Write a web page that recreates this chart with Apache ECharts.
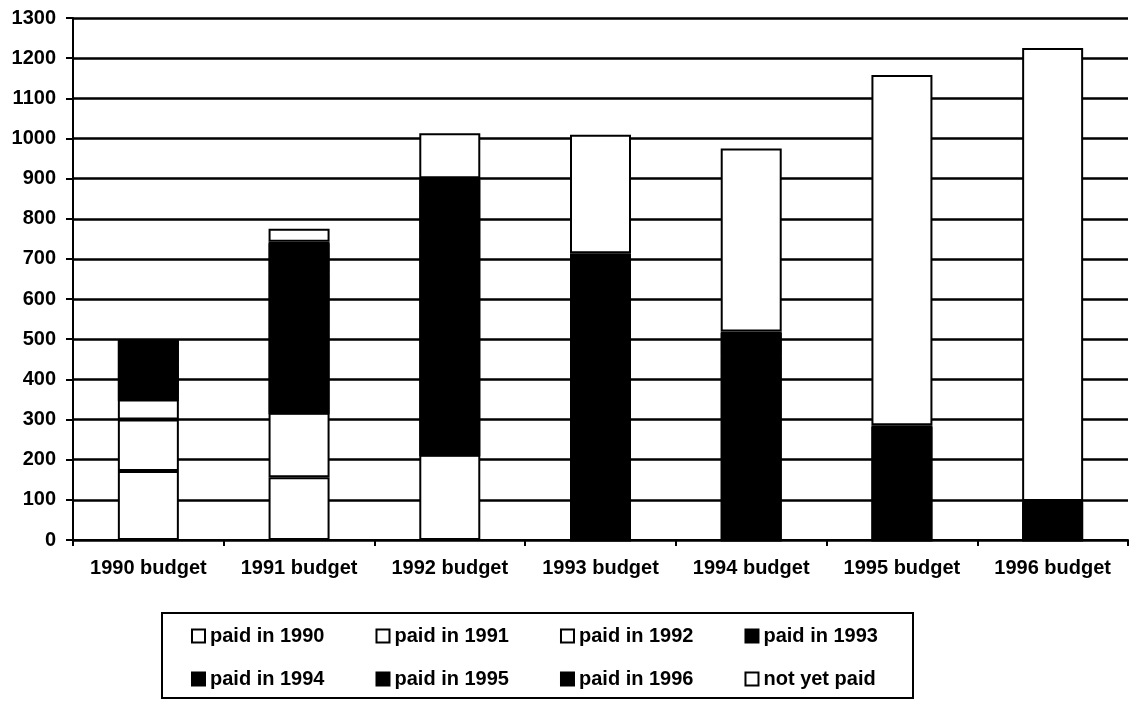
<!DOCTYPE html>
<html>
<head>
<meta charset="utf-8">
<script src="https://cdn.jsdelivr.net/npm/echarts@6/dist/echarts.min.js"></script>
<style>
  html, body { margin: 0; padding: 0; background: #fff; }
  #chart { width: 1134px; height: 712px; }
</style>
</head>
<body>
<div id="chart"></div>
<script>
// Budget years along the x axis
var categories = ['1990 budget', '1991 budget', '1992 budget', '1993 budget', '1994 budget', '1995 budget', '1996 budget'];

// Amount of each budget paid in a given year (null = nothing paid that year)
var paid1990 = [172, null, null, null, null, null, null];
var paid1991 = [128, 156, null, null, null, null, null];
var paid1992 = [50, 161, 212, null, null, null, null];
var paid1993 = [10, 200, 300, 350, null, null, null];
var paid1994 = [80, 150, 250, 220, 300, null, null];
var paid1995 = [40, 56, 100, 100, 160, 200, null];
var paid1996 = [20, 20, 39, 44, 59, 86, 97];
var notYetPaid = [null, 32, 112, 295, 456, 872, 1128];

// Value axis ticks
var yMin = 0, yMax = 1300, yStep = 100;

var FONT = '"Liberation Sans", Arial, sans-serif';

var seriesDefs = [
  { name: 'paid in 1990', data: paid1990, fill: '#ffffff' },
  { name: 'paid in 1991', data: paid1991, fill: '#ffffff' },
  { name: 'paid in 1992', data: paid1992, fill: '#ffffff' },
  { name: 'paid in 1993', data: paid1993, fill: '#000000' },
  { name: 'paid in 1994', data: paid1994, fill: '#000000' },
  { name: 'paid in 1995', data: paid1995, fill: '#000000' },
  { name: 'paid in 1996', data: paid1996, fill: '#000000' },
  { name: 'not yet paid', data: notYetPaid, fill: '#ffffff' }
];

var series = seriesDefs.map(function (d) {
  var dark = d.fill === '#000000';
  var style = { color: d.fill, borderColor: '#000', borderWidth: 2 };
  if (dark) {
    // a 1px solid drop keeps neighbouring black segments seamless
    style.shadowColor = '#000';
    style.shadowBlur = 0;
    style.shadowOffsetY = 1.5;
  }
  return {
    name: d.name,
    type: 'bar',
    stack: 'budget',
    data: d.data,
    barWidth: 61,
    itemStyle: style,
    emphasis: { disabled: true }
  };
});

function legendRow(names, top) {
  return {
    data: names.map(function (n) {
      return { name: n, itemStyle: { shadowColor: 'transparent', shadowOffsetY: 0 } };
    }),
    left: 186,
    top: top,
    orient: 'horizontal',
    itemWidth: 13,
    itemHeight: 13,
    itemGap: 51,
    icon: 'rect',
    selectedMode: false,
    textStyle: { fontFamily: FONT, fontSize: 20, fontWeight: 'bold', color: '#000' }
  };
}

var chart = echarts.init(document.getElementById('chart'), null, { renderer: 'canvas' });
chart.setOption({
  animation: false,
  backgroundColor: '#fff',
  grid: { left: 73, right: 6, top: 18, bottom: 172, containLabel: false },
  xAxis: {
    type: 'category',
    data: categories,
    axisLine: { lineStyle: { color: '#000', width: 2 } },
    axisTick: { show: true, inside: false, interval: 0, length: 6, lineStyle: { color: '#000', width: 2 } },
    axisLabel: { interval: 0, margin: 18, fontFamily: FONT, fontSize: 20, fontWeight: 'bold', color: '#000' },
    splitLine: { show: false }
  },
  yAxis: {
    type: 'value',
    min: yMin,
    max: yMax,
    interval: yStep,
    axisLine: { show: true, lineStyle: { color: '#000', width: 2 } },
    axisTick: { show: true, inside: false, length: 7, lineStyle: { color: '#000', width: 2 } },
    axisLabel: {
      margin: 17, fontFamily: FONT, fontSize: 20, fontWeight: 'bold', color: '#000',
      formatter: function (v) { return String(v); }
    },
    splitLine: { show: true, lineStyle: { color: '#000', width: 2.5 } }
  },
  legend: [
    legendRow(['paid in 1990', 'paid in 1991', 'paid in 1992', 'paid in 1993'], 621),
    legendRow(['paid in 1994', 'paid in 1995', 'paid in 1996', 'not yet paid'], 664)
  ],
  graphic: [{
    type: 'rect',
    shape: { x: 162, y: 613, width: 751, height: 85 },
    style: { fill: 'none', stroke: '#000', lineWidth: 2 },
    silent: true
  }],
  series: series
});
</script>
</body>
</html>
